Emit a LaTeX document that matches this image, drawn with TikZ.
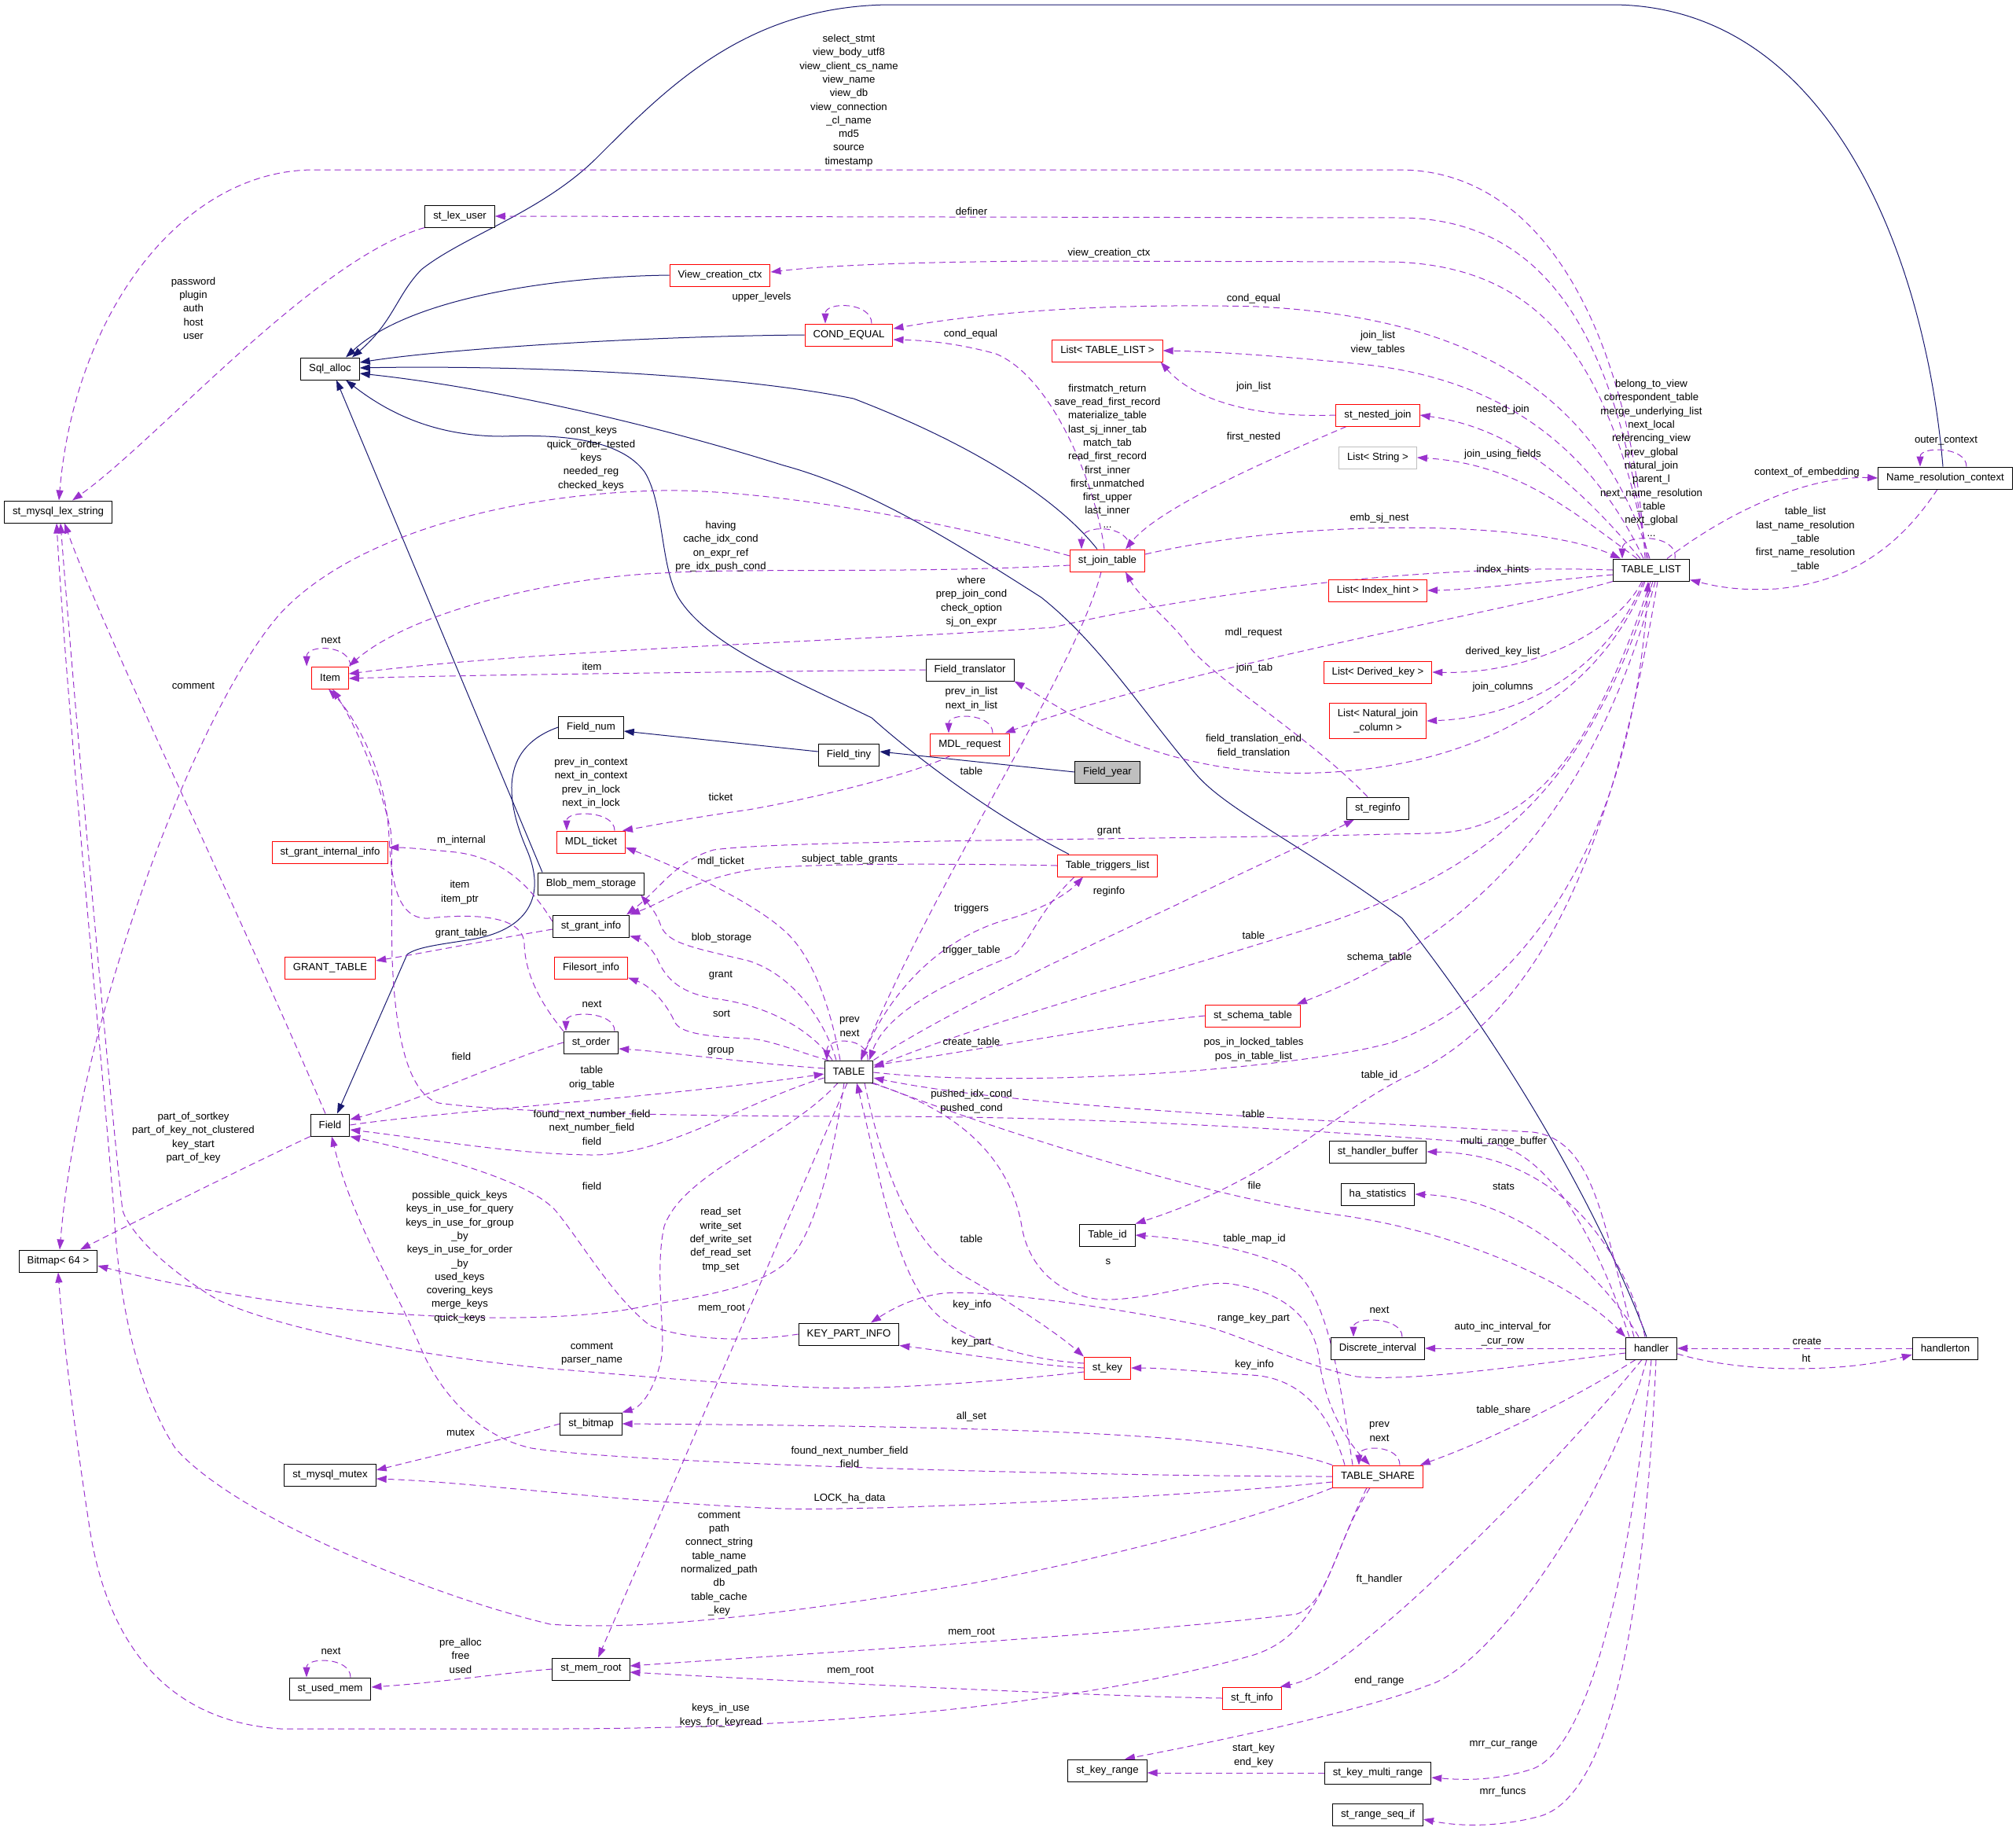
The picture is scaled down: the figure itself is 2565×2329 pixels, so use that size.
\documentclass[tikz,border=0pt]{standalone}
\usepackage{fontspec}
\setmainfont{Liberation Sans}
\usetikzlibrary{arrows.meta, backgrounds}
\definecolor{edgepurple}{HTML}{9A32CD}
\definecolor{edgeblue}{HTML}{191970}
\definecolor{boxred}{HTML}{FF0000}
\definecolor{boxgray}{HTML}{BFBFBF}

\begin{document}
\begin{tikzpicture}[x=1pt, y=-1pt,
  cls/.style={draw=black, line width=1pt, fill=white, font=\fontsize{13.2}{17.3}\selectfont, inner xsep=10.5pt, inner ysep=2pt, minimum height=28pt},
  redcls/.style={cls, draw=boxred},
  graycls/.style={cls, draw=boxgray},
  rootcls/.style={cls, fill=boxgray},
  lbl/.style={font=\fontsize{13.2}{17.3}\selectfont, align=center, inner sep=0pt},
  uses/.style={draw=edgepurple, line width=1pt, dash pattern=on 8pt off 5pt, -{Triangle[length=13pt,width=9pt]}},
  isa/.style={draw=edgeblue, line width=1pt, -{Triangle[length=13pt,width=9pt]}}
]
  \useasboundingbox (0,0) rectangle (2565,2329);

  % classes
  \node[cls] (lexstr) at (74,651) {st\_mysql\_lex\_string};
  \node[cls] (lexuser) at (585,275) {st\_lex\_user};
  \node[cls] (sqlalloc) at (420,469) {Sql\_alloc};
  \node[redcls] (vcc) at (916,350) {View\_creation\_ctx};
  \node[redcls] (condeq) at (1080,426) {COND\_EQUAL};
  \node[redcls] (listtl) at (1409,446) {List< TABLE\_LIST >};
  \node[redcls] (nested) at (1753,528) {st\_nested\_join};
  \node[graycls] (liststr) at (1753,582) {List< String >};
  \node[redcls] (jtab) at (1409,713) {st\_join\_table};
  \node[redcls] (listih) at (1753,751) {List< Index\_hint >};
  \node[cls] (tlist) at (2101,725) {TABLE\_LIST};
  \node[cls] (nrc) at (2475,608) {Name\_resolution\_context};
  \node[redcls] (item) at (420,862) {Item};
  \node[cls] (fieldtr) at (1234,852) {Field\_translator};
  \node[redcls] (listdk) at (1753,855) {List< Derived\_key >};
  \node[redcls, align=center, minimum height=45pt] (listnj) at (1753,917) {List< Natural\_join\\\_column >};
  \node[cls] (fieldnum) at (752,925) {Field\_num};
  \node[redcls] (mdlreq) at (1234,947) {MDL\_request};
  \node[cls] (fieldtiny) at (1080,960) {Field\_tiny};
  \node[rootcls] (fieldyear) at (1409,982) {Field\_year};
  \node[cls] (reginfo) at (1753,1028) {st\_reginfo};
  \node[redcls] (mdltk) at (752,1071) {MDL\_ticket};
  \node[redcls] (ginternal) at (420,1084) {st\_grant\_internal\_info};
  \node[redcls] (trig) at (1409,1101) {Table\_triggers\_list};
  \node[cls] (blob) at (752,1124) {Blob\_mem\_storage};
  \node[cls] (ginfo) at (752,1178) {st\_grant\_info};
  \node[redcls] (gtable) at (420,1231) {GRANT\_TABLE};
  \node[redcls] (fsort) at (752,1231) {Filesort\_info};
  \node[redcls] (schema) at (1594,1292) {st\_schema\_table};
  \node[cls] (order) at (752,1326) {st\_order};
  \node[cls] (table) at (1080,1363) {TABLE};
  \node[cls] (field) at (420,1431) {Field};
  \node[cls] (hbuf) at (1753,1465) {st\_handler\_buffer};
  \node[cls] (hastat) at (1753,1519) {ha\_statistics};
  \node[cls] (tableid) at (1409,1571) {Table\_id};
  \node[cls] (bitmap) at (74,1604) {Bitmap< 64 >};
  \node[cls] (kpi) at (1080,1697) {KEY\_PART\_INFO};
  \node[cls] (discrete) at (1753,1715) {Discrete\_interval};
  \node[cls] (handler) at (2101,1715) {handler};
  \node[cls] (hton) at (2475,1715) {handlerton};
  \node[redcls] (stkey) at (1409,1740) {st\_key};
  \node[cls] (stbitmap) at (752,1811) {st\_bitmap};
  \node[cls] (mutex) at (420,1876) {st\_mysql\_mutex};
  \node[redcls] (share) at (1753,1878) {TABLE\_SHARE};
  \node[cls] (memroot) at (752,2123) {st\_mem\_root};
  \node[cls] (usedmem) at (420,2148) {st\_used\_mem};
  \node[redcls] (ftinfo) at (1593,2160) {st\_ft\_info};
  \node[cls] (keyrange) at (1409,2252) {st\_key\_range};
  \node[cls] (multirange) at (1753,2255) {st\_key\_multi\_range};
  \node[cls] (rangeseq) at (1753,2308) {st\_range\_seq\_if};

  \begin{scope}[on background layer]
  % inheritance
  \draw[isa] (fieldyear.west) -- ([yshift=4pt]fieldtiny.east);
  \draw[isa] ([yshift=4pt]fieldtiny.west) -- ([yshift=-5pt]fieldnum.east);
  \draw[isa] (fieldnum.west) .. controls (640,950) and (640,1010) .. (670,1080) .. controls (700,1150) and (660,1185) .. (600,1195) .. controls (555,1202) and (530,1205) .. (518,1214) -- ([xshift=9pt]field.north);
  \draw[isa] ([xshift=-3pt]nrc.north) .. controls (2450,330) and (2330,6) .. (2050,6) -- (1131,6) .. controls (950,8) and (850,110) .. (760,200) .. controls (690,270) and (590,300) .. (536,343) .. controls (505,375) and (500,410) .. ([xshift=28pt]sqlalloc.north);
  \draw[isa] (vcc.west) .. controls (700,352) and (520,380) .. ([xshift=20pt]sqlalloc.north);
  \draw[isa] (condeq.west) .. controls (800,428) and (560,445) .. ([yshift=8pt]sqlalloc.east);
  \draw[isa] ([xshift=-13pt]jtab.north) .. controls (1350,640) and (1250,570) .. (1086,507) .. controls (900,470) and (600,465) .. ([yshift=1pt]sqlalloc.east);
  \draw[isa] ([xshift=-6pt]handler.north) .. controls (2050,1580) and (1950,1380) .. (1784,1168) .. controls (1650,1070) and (1560,1030) .. (1521,984) .. controls (1450,900) and (1400,820) .. (1325,760) .. controls (1200,680) and (1100,620) .. (997,592) .. controls (800,530) and (600,490) .. ([yshift=-6pt]sqlalloc.east);
  \draw[isa] ([xshift=-49pt]trig.north) .. controls (1250,1030) and (1150,950) .. (1109,913) .. controls (1000,860) and (900,820) .. (863,760) .. controls (840,720) and (845,640) .. (820,600) .. controls (790,560) and (720,552) .. (640,555) .. controls (560,555) and (500,530) .. ([xshift=20pt]sqlalloc.south);
  \draw[isa] ([xshift=-62pt]blob.north) -- ([xshift=8pt]sqlalloc.south);

  % TABLE_LIST members
  \draw[uses] ([xshift=-8pt]tlist.north) .. controls (2080,480) and (1990,216) .. (1780,216) -- (400,216) .. controls (230,216) and (95,400) .. ([xshift=1pt]lexstr.north);
  \draw[uses] ([xshift=-6pt]tlist.north) .. controls (2060,450) and (1980,277) .. (1780,277) -- (lexuser.east);
  \draw[uses] ([xshift=-4pt]tlist.north) .. controls (2050,470) and (1970,333) .. (1760,333) -- (1340,332) .. controls (1150,333) and (1050,338) .. ([yshift=4pt]vcc.east);
  \draw[uses] ([xshift=-2pt]tlist.north) .. controls (2040,520) and (1900,405) .. (1600,390) .. controls (1400,385) and (1250,398) .. ([yshift=8pt]condeq.east);
  \draw[uses] ([xshift=-10pt]tlist.north) .. controls (2020,560) and (1900,480) .. (1730,463) .. controls (1620,452) and (1540,447) .. (listtl.east);
  \draw[uses] ([xshift=-14pt]tlist.north) .. controls (2010,620) and (1930,545) .. (nested.east);
  \draw[uses] ([xshift=-18pt]tlist.north) .. controls (2000,650) and (1930,590) .. (liststr.east);
  \draw[uses] (tlist.west) .. controls (1800,716) and (1500,760) .. (1340,798) .. controls (1100,815) and (700,825) .. ([yshift=5pt]item.east);
  \draw[uses] ([yshift=-6pt]tlist.west) .. controls (1950,740) and (1880,750) .. (listih.east);
  \draw[uses] (tlist.south west) .. controls (1950,770) and (1500,850) .. ([xshift=-6pt]mdlreq.north east);
  \draw[uses] ([xshift=-12pt]tlist.south) .. controls (2060,800) and (1950,858) .. (listdk.east);
  \draw[uses] ([xshift=-10pt]tlist.south) .. controls (2050,840) and (1950,912) .. (listnj.east);
  \draw[uses] ([xshift=-8pt]tlist.south) .. controls (2030,900) and (1850,990) .. (1628,983) .. controls (1450,975) and (1350,900) .. (fieldtr.south east);
  \draw[uses] ([xshift=-1pt]tlist.south) .. controls (2030,950) and (1950,1060) .. (1816,1060) .. controls (1500,1068) and (1000,1068) .. (908,1081) .. controls (860,1095) and (840,1130) .. ([xshift=-4pt]ginfo.north east);
  \draw[uses] ([xshift=2pt]tlist.south) .. controls (2020,1000) and (1900,1100) .. (1700,1170) .. controls (1500,1235) and (1250,1300) .. ([yshift=5pt]table.east);
  \draw[uses] ([xshift=5pt]tlist.south) .. controls (2020,1060) and (1850,1200) .. ([xshift=-5pt]schema.north east);
  \draw[uses] ([xshift=8pt]tlist.south) .. controls (2050,1100) and (1950,1300) .. (1784,1372) .. controls (1690,1420) and (1620,1500) .. (tableid.north east);
  \draw[uses] ([yshift=-1pt]table.east) .. controls (1300,1385) and (1650,1360) .. (1771,1326) .. controls (1950,1260) and (2080,1050) .. ([xshift=-4pt]tlist.south);
  \draw[uses] ([xshift=20pt]tlist.north) .. controls (2200,650) and (2300,605) .. (nrc.west);
  \draw[uses] ([xshift=-10pt]nrc.south) .. controls (2420,690) and (2360,740) .. (2260,749) .. controls (2210,752) and (2180,745) .. ([yshift=2pt]tlist.south east);
  \draw[uses] ([xshift=27pt]nrc.north) .. controls +(0,-26) and +(0,-26) .. ([xshift=-32pt]nrc.north);
  \draw[uses] ([xshift=30pt]tlist.north) .. controls +(5,-32) and +(0,-32) .. ([xshift=-37pt]tlist.north);

  % st_join_table members
  \draw[uses] ([yshift=6pt]jtab.west) .. controls (1150,650) and (950,622) .. (841,624) .. controls (650,628) and (450,680) .. (357,780) .. controls (250,900) and (100,1300) .. ([xshift=2pt]bitmap.north);
  \draw[uses] ([yshift=-6pt]jtab.west) .. controls (1150,730) and (950,722) .. (841,729) .. controls (700,735) and (520,780) .. (item.north east);
  \draw[uses] ([xshift=-4pt]jtab.north) .. controls (1395,620) and (1340,480) .. (1267,450) .. controls (1220,437) and (1180,433) .. ([yshift=-6pt]condeq.east);
  \draw[uses] ([xshift=-8pt]jtab.south) .. controls (1370,850) and (1200,1100) .. ([xshift=15pt]table.north);
  \draw[uses] ([yshift=8pt]jtab.east) .. controls (1650,660) and (1950,660) .. ([xshift=10pt]tlist.north west);
  \draw[uses] ([xshift=29pt]jtab.north) .. controls +(0,-32) and +(0,-32) .. ([xshift=-33pt]jtab.north);
  \draw[uses] ([xshift=-40pt]nested.south) .. controls (1650,570) and (1480,640) .. ([xshift=23pt]jtab.north);
  \draw[uses] (nested.west) .. controls (1600,532) and (1520,510) .. ([xshift=-3pt]listtl.south east);
  \draw[uses] ([xshift=-13pt]reginfo.north) .. controls (1670,940) and (1540,860) .. (1512,821) .. controls (1490,790) and (1450,760) .. ([xshift=23pt]jtab.south);

  % Item, COND_EQUAL, MDL
  \draw[uses] (fieldtr.west) .. controls (1000,854) and (600,858) .. ([yshift=-1pt]item.east);
  \draw[uses] ([xshift=2pt]item.north east) .. controls +(0,-28) and +(0,-28) .. ([xshift=-6pt]item.north west);
  \draw[uses] ([xshift=29pt]condeq.north) .. controls +(0,-28) and +(0,-28) .. ([xshift=-30pt]condeq.north);
  \draw[uses] ([xshift=29pt]mdlreq.north) .. controls +(0,-26) and +(0,-26) .. ([xshift=-27pt]mdlreq.north);
  \draw[uses] ([xshift=-25pt]mdlreq.south) .. controls (1150,990) and (1000,1022) .. (952,1030) .. controls (880,1040) and (830,1050) .. ([xshift=-4pt]mdltk.north east);
  \draw[uses] ([xshift=30pt]mdltk.north) .. controls +(0,-26) and +(0,-26) .. ([xshift=-31pt]mdltk.north);

  % TABLE members
  \draw[uses] ([xshift=-11pt]table.north) .. controls (1060,1300) and (1040,1220) .. (997,1183) .. controls (960,1150) and (880,1110) .. ([yshift=-7pt]mdltk.east);
  \draw[uses] ([xshift=-16pt]table.north) .. controls (1050,1300) and (1010,1240) .. (952,1222) .. controls (880,1205) and (850,1200) .. (841,1178) .. controls (835,1160) and (825,1150) .. ([xshift=-5pt]blob.south east);
  \draw[uses] ([xshift=-21pt]table.north) .. controls (1040,1320) and (990,1280) .. (908,1270) .. controls (860,1262) and (845,1240) .. (836,1219) .. controls (828,1205) and (818,1195) .. ([yshift=2pt]ginfo.south east);
  \draw[uses] ([xshift=-26pt]table.north) .. controls (1020,1340) and (980,1322) .. (952,1321) .. controls (880,1318) and (865,1310) .. (859,1301) .. controls (850,1280) and (830,1255) .. ([yshift=2pt]fsort.south east);
  \draw[uses] ([yshift=4pt]table.west) .. controls (950,1352) and (850,1338) .. ([yshift=-8pt]order.east);
  \draw[uses] ([xshift=24pt]table.north) .. controls +(2,-30) and +(0,-30) .. ([xshift=-28pt]table.north);
  \draw[uses] ([xshift=16pt]table.north) .. controls (1130,1260) and (1200,1190) .. (1287,1168) .. controls (1330,1155) and (1360,1135) .. ([xshift=-31pt]trig.south);
  \draw[uses] ([xshift=-42pt]trig.south) .. controls (1320,1160) and (1310,1200) .. (1290,1215) .. controls (1230,1240) and (1130,1280) .. ([xshift=26pt]table.north);
  \draw[uses] (table.north east) .. controls (1200,1290) and (1350,1220) .. (1503,1148) .. controls (1600,1100) and (1680,1065) .. ([xshift=-30pt]reginfo.south);
  \draw[uses] (schema.west) .. controls (1400,1305) and (1250,1335) .. ([yshift=8pt]table.east);
  \draw[uses] (trig.west) .. controls (1200,1098) and (1000,1098) .. (952,1107) .. controls (880,1120) and (850,1145) .. (ginfo.north east);
  \draw[uses] ([xshift=-6pt]table.south) .. controls (1060,1470) and (1040,1560) .. (1006,1600) .. controls (970,1640) and (880,1650) .. (827,1660) .. controls (700,1690) and (400,1680) .. ([yshift=-6pt]bitmap.east);
  \draw[uses] ([xshift=-14pt]table.south) .. controls (1000,1450) and (870,1490) .. (845,1560) .. controls (832,1620) and (848,1700) .. (841,1730) .. controls (832,1770) and (815,1790) .. (stbitmap.north east);
  \draw[uses] ([xshift=-2pt]table.south) -- ([xshift=9pt]memroot.north);
  \draw[uses] ([xshift=20pt]table.south) .. controls (1130,1520) and (1170,1590) .. (1230,1625) .. controls (1300,1665) and (1350,1700) .. (stkey.north west);
  \draw[uses] ([yshift=6pt]stkey.west) .. controls (1300,1730) and (1220,1700) .. (1190,1670) .. controls (1140,1620) and (1120,1500) .. ([xshift=10pt]table.south);
  \draw[uses] ([xshift=28pt]table.south) .. controls (1250,1420) and (1290,1500) .. (1300,1560) .. controls (1310,1620) and (1360,1655) .. (1414,1653) .. controls (1480,1650) and (1530,1628) .. (1566,1633) .. controls (1640,1645) and (1675,1680) .. (1680,1740) .. controls (1690,1800) and (1720,1840) .. ([xshift=-10pt]share.north);
  \draw[uses] (table.south east) .. controls (1300,1450) and (1550,1525) .. (1700,1545) .. controls (1850,1565) and (2000,1630) .. (handler.north west);

  % Field members
  \draw[uses] (field.east) .. controls (550,1415) and (850,1395) .. ([yshift=-3pt]table.west);
  \draw[uses] ([yshift=-8pt]table.west) .. controls (950,1400) and (850,1470) .. (752,1469) .. controls (650,1468) and (540,1448) .. ([yshift=-6pt]field.east);
  \draw[uses] (kpi.west) .. controls (930,1710) and (860,1700) .. (827,1686) .. controls (780,1650) and (740,1580) .. (707,1540) .. controls (680,1510) and (600,1480) .. (field.south east);
  \draw[uses] (order.west) .. controls (650,1345) and (520,1405) .. ([yshift=7pt]field.east);
  \draw[uses] ([xshift=-6pt]field.north) .. controls (300,1150) and (130,800) .. ([xshift=8pt]lexstr.south);
  \draw[uses] (field.south west) .. controls (300,1490) and (160,1560) .. ([xshift=28pt]bitmap.north);
  \draw[uses] (order.north west) .. controls (695,1285) and (668,1245) .. (667,1200) .. controls (666,1170) and (620,1160) .. (545,1168) .. controls (505,1170) and (498,1120) .. (495,1066) .. controls (492,980) and (450,910) .. ([xshift=-2pt]item.south);
  \draw[uses] ([xshift=-28pt]handler.north) .. controls (2040,1600) and (1980,1470) .. (1900,1455) .. controls (1600,1432) and (1350,1420) .. (1100,1420) .. controls (900,1420) and (650,1416) .. (558,1403) .. controls (515,1390) and (502,1300) .. (499,1219) .. controls (497,1150) and (500,1080) .. (497,1056) .. controls (480,980) and (445,910) .. ([xshift=3pt]item.south);

  % grants and small structs
  \draw[uses] ([yshift=6pt]ginfo.west) .. controls (680,1135) and (645,1092) .. (580,1084) .. controls (540,1080) and (515,1078) .. ([yshift=6pt]ginternal.east);
  \draw[uses] ([yshift=-4pt]ginfo.west) .. controls (620,1196) and (540,1212) .. ([yshift=9pt]gtable.east);
  \draw[uses] ([xshift=30pt]order.north) .. controls +(0,-26) and +(0,-26) .. ([xshift=-32pt]order.north);
  \draw[uses] (lexuser.south west) .. controls (400,330) and (200,560) .. ([xshift=18pt]lexstr.north);
  \draw[uses] (stbitmap.west) .. controls (650,1828) and (560,1850) .. ([yshift=6pt]mutex.east);
  \draw[uses] (memroot.west) .. controls (640,2128) and (560,2140) .. ([yshift=2pt]usedmem.east);
  \draw[uses] ([xshift=26pt]usedmem.north) .. controls +(0,-26) and +(0,-26) .. ([xshift=-30pt]usedmem.north);
  \draw[uses] (ftinfo.west) .. controls (1400,2158) and (1000,2138) .. ([yshift=-4pt]memroot.east);

  % st_key and TABLE_SHARE members
  \draw[uses] (stkey.west) .. controls (1300,1735) and (1200,1718) .. (kpi.south east);
  \draw[uses] ([yshift=-5pt]stkey.west) .. controls (1250,1760) and (1100,1768) .. (1042,1765) .. controls (900,1760) and (760,1745) .. (700,1741) .. controls (500,1722) and (320,1680) .. (268,1648) .. controls (200,1605) and (165,1565) .. (156,1540) .. controls (140,1400) and (95,900) .. ([xshift=3pt]lexstr.south);
  \draw[uses] ([xshift=28pt]share.north) .. controls +(0,-26) and +(0,-26) .. ([xshift=-24pt]share.north);
  \draw[uses] ([xshift=-32pt]share.north) .. controls (1705,1760) and (1690,1640) .. (1640,1612) .. controls (1580,1585) and (1500,1575) .. (tableid.east);
  \draw[uses] ([xshift=-42pt]share.north) .. controls (1690,1790) and (1650,1752) .. (1592,1749) .. controls (1520,1744) and (1480,1740) .. (stkey.east);
  \draw[uses] (share.north west) .. controls (1600,1830) and (1400,1815) .. (stbitmap.east);
  \draw[uses] (share.west) .. controls (1400,1878) and (800,1862) .. (676,1842) .. controls (600,1825) and (555,1760) .. (536,1716) .. controls (505,1640) and (450,1560) .. ([xshift=2pt]field.south);
  \draw[uses] ([yshift=-7pt]share.west) .. controls (1500,1905) and (1100,1922) .. (997,1919) .. controls (800,1912) and (600,1885) .. ([yshift=-5pt]mutex.east);
  \draw[uses] (share.south west) .. controls (1550,1950) and (1300,2005) .. (1200,2020) .. controls (1000,2052) and (820,2075) .. (700,2066) .. controls (550,2030) and (300,1930) .. (223,1842) .. controls (170,1760) and (150,1640) .. (145,1540) .. controls (130,1350) and (85,900) .. ([xshift=-2pt]lexstr.south);
  \draw[uses] ([xshift=-10pt]share.south) .. controls (1700,1960) and (1690,2040) .. (1650,2053) .. controls (1450,2078) and (1000,2105) .. ([yshift=4pt]memroot.east);
  \draw[uses] ([xshift=-14pt]share.south) .. controls (1690,1990) and (1680,2080) .. (1592,2106) .. controls (1400,2160) and (1100,2199) .. (700,2199) -- (357,2199) .. controls (220,2190) and (140,2100) .. (115,1950) .. controls (95,1820) and (80,1700) .. (bitmap.south);

  % handler members
  \draw[uses] ([xshift=-8pt]handler.north) .. controls (2070,1600) and (1990,1468) .. (hbuf.east);
  \draw[uses] ([xshift=-16pt]handler.north) .. controls (2050,1640) and (1950,1525) .. (hastat.east);
  \draw[uses] ([xshift=-22pt]handler.north) .. controls (2040,1560) and (2030,1450) .. (1950,1440) .. controls (1700,1425) and (1300,1410) .. ([yshift=-8pt]table.east);
  \draw[uses] (handler.west) -- (discrete.east);
  \draw[uses] ([yshift=-6pt]handler.west) .. controls (1950,1735) and (1800,1758) .. (1726,1751) .. controls (1660,1738) and (1570,1695) .. (1530,1686) .. controls (1400,1660) and (1250,1640) .. (1200,1645) .. controls (1160,1650) and (1130,1668) .. ([xshift=28pt]kpi.north);
  \draw[uses] ([xshift=-20pt]handler.south) .. controls (2000,1780) and (1900,1830) .. ([xshift=-4pt]share.north east);
  \draw[uses] ([xshift=-12pt]handler.south) .. controls (1990,1850) and (1850,1990) .. (1771,2058) .. controls (1720,2100) and (1680,2135) .. ([xshift=-2pt]ftinfo.north east);
  \draw[uses] ([xshift=-6pt]handler.south) .. controls (2050,1900) and (1900,2120) .. (1816,2144) .. controls (1750,2170) and (1600,2205) .. ([xshift=22pt]keyrange.north);
  \draw[uses] (handler.south) .. controls (2080,1950) and (2030,2220) .. (1950,2250) .. controls (1900,2266) and (1860,2264) .. ([yshift=-6pt]multirange.east);
  \draw[uses] ([xshift=6pt]handler.south) .. controls (2095,2000) and (2060,2280) .. (1960,2310) .. controls (1900,2326) and (1850,2322) .. ([yshift=-6pt]rangeseq.east);
  \draw[uses] (multirange.west) -- ([yshift=-3pt]keyrange.east);
  \draw[uses] (hton.west) -- (handler.east);
  \draw[uses] ([yshift=-7pt]handler.east) .. controls (2220,1748) and (2350,1745) .. ([yshift=-8pt]hton.west);
  \draw[uses] ([xshift=31pt]discrete.north) .. controls +(0,-26) and +(0,-26) .. ([xshift=-31pt]discrete.north);
  \end{scope}

  % member labels
  \node[lbl] (l1) at (1080,128) {select\_stmt\\view\_body\_utf8\\view\_client\_cs\_name\\view\_name\\view\_db\\view\_connection\\\_cl\_name\\md5\\source\\timestamp};
  \node[lbl] (l2) at (246,392) {password\\plugin\\auth\\host\\user};
  \node[lbl] (l3) at (1236,269) {definer};
  \node[lbl] (l4) at (1411,322) {view\_creation\_ctx};
  \node[lbl] (l5) at (969,378) {upper\_levels};
  \node[lbl] (l6) at (1235,425) {cond\_equal};
  \node[lbl] (l7) at (1595,380) {cond\_equal};
  \node[lbl] (l8) at (1753,436) {join\_list\\view\_tables};
  \node[lbl] (l9) at (1595,492) {join\_list};
  \node[lbl] (l10) at (1409,580) {firstmatch\_return\\save\_read\_first\_record\\materialize\_table\\last\_sj\_inner\_tab\\match\_tab\\read\_first\_record\\first\_inner\\first\_unmatched\\first\_upper\\last\_inner\\...};
  \node[lbl] (l11) at (1595,556) {first\_nested};
  \node[lbl] (l12) at (1912,521) {nested\_join};
  \node[lbl] (l13) at (1912,578) {join\_using\_fields};
  \node[lbl] (l14) at (1755,659) {emb\_sj\_nest};
  \node[lbl] (l15) at (1912,725) {index\_hints};
  \node[lbl] (l16) at (2101,583) {belong\_to\_view\\correspondent\_table\\merge\_underlying\_list\\next\_local\\referencing\_view\\prev\_global\\natural\_join\\parent\_l\\next\_name\_resolution\\\_table\\next\_global\\...};
  \node[lbl] (l17) at (2476,561) {outer\_context};
  \node[lbl] (l18) at (2299,601) {context\_of\_embedding};
  \node[lbl] (l19) at (2297,686) {table\_list\\last\_name\_resolution\\\_table\\first\_name\_resolution\\\_table};
  \node[lbl] (l20) at (752,583) {const\_keys\\quick\_order\_tested\\keys\\needed\_reg\\checked\_keys};
  \node[lbl] (l21) at (917,695) {having\\cache\_idx\_cond\\on\_expr\_ref\\pre\_idx\_push\_cond};
  \node[lbl] (l22) at (1236,765) {where\\prep\_join\_cond\\check\_option\\sj\_on\_expr};
  \node[lbl] (l23) at (421,814) {next};
  \node[lbl] (l24) at (246,872) {comment};
  \node[lbl] (l25) at (753,848) {item};
  \node[lbl] (l26) at (1595,805) {mdl\_request};
  \node[lbl] (l27) at (1912,829) {derived\_key\_list};
  \node[lbl] (l28) at (1596,850) {join\_tab};
  \node[lbl] (l29) at (1912,874) {join\_columns};
  \node[lbl] (l30) at (1236,889) {prev\_in\_list\\next\_in\_list};
  \node[lbl] (l31) at (1595,949) {field\_translation\_end\\field\_translation};
  \node[lbl] (l32) at (1236,981) {table};
  \node[lbl] (l33) at (752,996) {prev\_in\_context\\next\_in\_context\\prev\_in\_lock\\next\_in\_lock};
  \node[lbl] (l34) at (917,1014) {ticket};
  \node[lbl] (l35) at (1411,1058) {grant};
  \node[lbl] (l36) at (587,1069) {m\_internal};
  \node[lbl] (l37) at (917,1096) {mdl\_ticket};
  \node[lbl] (l38) at (1081,1093) {subject\_table\_grants};
  \node[lbl] (l39) at (585,1135) {item\\item\_ptr};
  \node[lbl] (l40) at (1411,1134) {reginfo};
  \node[lbl] (l41) at (1236,1156) {triggers};
  \node[lbl] (l42) at (587,1187) {grant\_table};
  \node[lbl] (l43) at (1595,1190) {table};
  \node[lbl] (l44) at (918,1193) {blob\_storage};
  \node[lbl] (l45) at (1236,1209) {trigger\_table};
  \node[lbl] (l46) at (1755,1218) {schema\_table};
  \node[lbl] (l47) at (917,1241) {grant};
  \node[lbl] (l48) at (753,1277) {next};
  \node[lbl] (l49) at (918,1289) {sort};
  \node[lbl] (l50) at (1081,1306) {prev\\next};
  \node[lbl] (l51) at (1236,1326) {create\_table};
  \node[lbl] (l52) at (1595,1335) {pos\_in\_locked\_tables\\pos\_in\_table\_list};
  \node[lbl] (l53) at (917,1337) {group};
  \node[lbl] (l54) at (587,1344) {field};
  \node[lbl] (l55) at (753,1371) {table\\orig\_table};
  \node[lbl] (l56) at (1755,1368) {table\_id};
  \node[lbl] (l57) at (1236,1401) {pushed\_idx\_cond\\pushed\_cond};
  \node[lbl] (l58) at (1595,1417) {table};
  \node[lbl] (l59) at (753,1434) {found\_next\_number\_field\\next\_number\_field\\field};
  \node[lbl] (l60) at (246,1447) {part\_of\_sortkey\\part\_of\_key\_not\_clustered\\key\_start\\part\_of\_key};
  \node[lbl] (l61) at (1913,1452) {multi\_range\_buffer};
  \node[lbl] (l62) at (1596,1508) {file};
  \node[lbl] (l63) at (1913,1509) {stats};
  \node[lbl] (l64) at (753,1509) {field};
  \node[lbl] (l65) at (585,1599) {possible\_quick\_keys\\keys\_in\_use\_for\_query\\keys\_in\_use\_for\_group\\\_by\\keys\_in\_use\_for\_order\\\_by\\used\_keys\\covering\_keys\\merge\_keys\\quick\_keys};
  \node[lbl] (l66) at (917,1577) {read\_set\\write\_set\\def\_write\_set\\def\_read\_set\\tmp\_set};
  \node[lbl] (l67) at (1236,1576) {table};
  \node[lbl] (l68) at (1596,1576) {table\_map\_id};
  \node[lbl] (l69) at (1410,1605) {s};
  \node[lbl] (l70) at (918,1665) {mem\_root};
  \node[lbl] (l71) at (1237,1660) {key\_info};
  \node[lbl] (l72) at (1755,1666) {next};
  \node[lbl] (l73) at (1595,1677) {range\_key\_part};
  \node[lbl] (l74) at (1912,1697) {auto\_inc\_interval\_for\\\_cur\_row};
  \node[lbl] (l75) at (2299,1706) {create};
  \node[lbl] (l76) at (2298,1728) {ht};
  \node[lbl] (l77) at (1236,1707) {key\_part};
  \node[lbl] (l78) at (753,1722) {comment\\parser\_name};
  \node[lbl] (l79) at (1596,1736) {key\_info};
  \node[lbl] (l80) at (1913,1794) {table\_share};
  \node[lbl] (l81) at (1236,1802) {all\_set};
  \node[lbl] (l82) at (1755,1821) {prev\\next};
  \node[lbl] (l83) at (586,1822) {mutex};
  \node[lbl] (l84) at (1081,1853) {found\_next\_number\_field\\field};
  \node[lbl] (l85) at (1081,1906) {LOCK\_ha\_data};
  \node[lbl] (l86) at (915,1989) {comment\\path\\connect\_string\\table\_name\\normalized\_path\\db\\table\_cache\\\_key};
  \node[lbl] (l87) at (1755,2009) {ft\_handler};
  \node[lbl] (l88) at (1236,2077) {mem\_root};
  \node[lbl] (l89) at (421,2100) {next};
  \node[lbl] (l90) at (586,2106) {pre\_alloc\\free\\used};
  \node[lbl] (l91) at (1082,2126) {mem\_root};
  \node[lbl] (l92) at (1755,2138) {end\_range};
  \node[lbl] (l93) at (917,2182) {keys\_in\_use\\keys\_for\_keyread};
  \node[lbl] (l94) at (1913,2219) {mrr\_cur\_range};
  \node[lbl] (l95) at (1595,2233) {start\_key\\end\_key};
  \node[lbl] (l96) at (1912,2279) {mrr\_funcs};
\end{tikzpicture}
\end{document}
